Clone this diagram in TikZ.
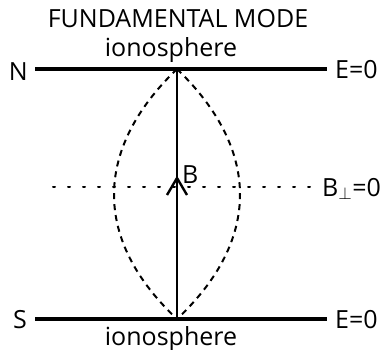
\documentclass[tikz,border=0pt]{standalone}
\usepackage{fontspec}
\setmainfont{Open Sans}
\usetikzlibrary{arrows.meta, decorations.markings}

\tikzset{
  label text/.style={font=\fontsize{25}{27}\selectfont, inner sep=0pt},
  boundary/.style={line width=4pt},
  field line/.style={line width=2.6pt},
  mode shape/.style={line width=2pt, dash pattern=on 6pt off 5pt},
  null line/.style={line width=2pt, dash pattern=on 2pt off 13pt},
}

\begin{document}
\begin{tikzpicture}[x=1pt, y=-1pt]
  \useasboundingbox (0,0) rectangle (383,349);

  % title and layer labels
  \node[label text] (title) at (178,19) {FUNDAMENTAL MODE};
  \node[label text, anchor=base] (iontop) at (171,56) {ionosphere};
  \node[label text, anchor=base] (ionbot) at (171,345) {ionosphere};

  % ends of the field line
  \coordinate (top) at (177,69);
  \coordinate (bot) at (177,319);
  \coordinate (mid) at (177,178);

  % upper boundary
  \node[label text, anchor=east] (north) at (28,72) {N};
  \node[label text, anchor=west] (etop) at (335,70) {E=0};
  \draw[boundary] (35,69) -- (327,69);

  % lower boundary
  \node[label text, anchor=east] (south) at (27,320) {S};
  \node[label text, anchor=west] (ebot) at (335,320) {E=0};
  \draw[boundary] (35,319) -- (327,319);

  % node line of the perpendicular field
  \coordinate (dotl) at (53,187);
  \coordinate (dotr) at (322,187);
  \draw[null line, line cap=round] (dotl) -- (dotr);
  \node[label text, anchor=base west] (bperp) at (322,196) {B$_{\perp}$=0};

  % mode shape
  \draw[mode shape] (top) .. controls (93,150) and (93,240) .. (bot);
  \draw[mode shape] (top) .. controls (261,150) and (261,240) .. (bot);

  % field line with arrow
  \draw[field line] (bot) -- (top);
  \draw[line width=2.4pt, line join=miter] (167,195) -- (mid) -- (187,195);
  \node[label text, anchor=base west] (bfield) at (182,183) {B};
\end{tikzpicture}
\end{document}
